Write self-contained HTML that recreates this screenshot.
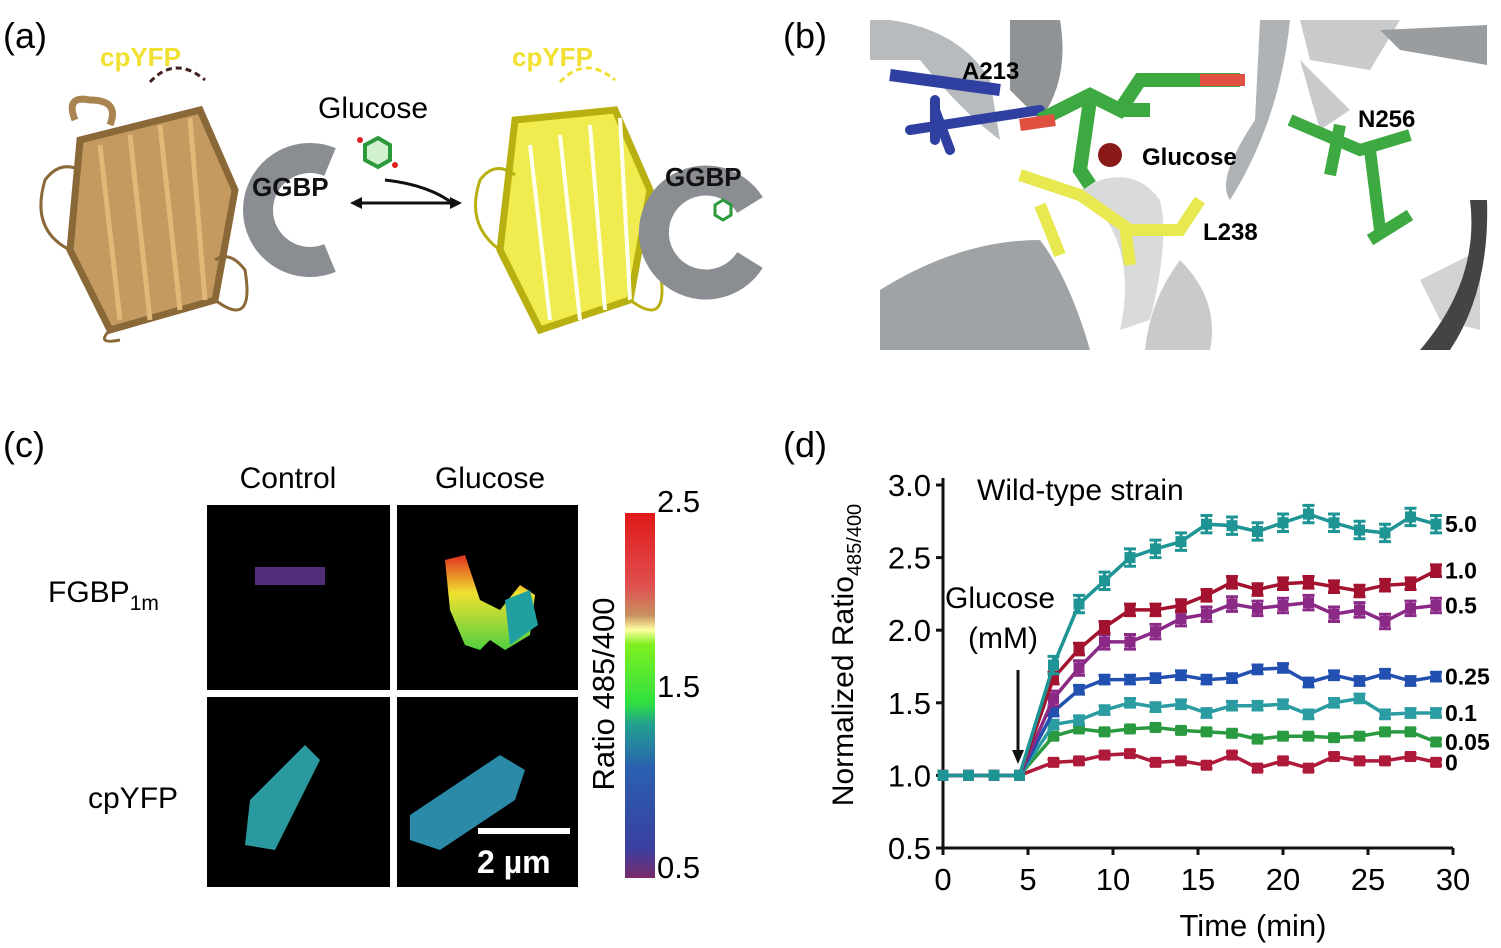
<!DOCTYPE html>
<html><head><meta charset="utf-8"><style>
html,body{margin:0;padding:0;background:#fff;}
svg{display:block;font-family:"Liberation Sans",Arial,sans-serif;}
</style></head><body>
<svg id="fig" width="1501" height="948" viewBox="0 0 1501 948">
<defs>
<linearGradient id="cbar" x1="0" y1="1" x2="0" y2="0">
<stop offset="0" stop-color="#7a2a6a"/><stop offset="0.08" stop-color="#3a3fa0"/>
<stop offset="0.3" stop-color="#2a60b0"/><stop offset="0.42" stop-color="#22a090"/>
<stop offset="0.48" stop-color="#30e040"/><stop offset="0.64" stop-color="#80f020"/>
<stop offset="0.68" stop-color="#ffffa0"/><stop offset="0.72" stop-color="#c89060"/>
<stop offset="0.8" stop-color="#e05050"/><stop offset="1" stop-color="#e01818"/>
</linearGradient>
<linearGradient id="hotG" x1="0" y1="0" x2="0" y2="1"><stop offset="0" stop-color="#e03020"/><stop offset="0.4" stop-color="#f0e030"/><stop offset="1" stop-color="#50d040"/></linearGradient>
</defs>

<!-- Panel a -->
<g>
<text x="3" y="48" font-size="36">(a)</text>
<text x="100" y="66" font-size="26" font-weight="bold" fill="#f2e030">cpYFP</text>
<path d="M150,82 Q175,55 205,80" stroke="#402020" stroke-width="3" stroke-dasharray="6,4" fill="none"/>
<g fill="none" stroke="#a98450" stroke-width="7">
<path d="M75,120 Q65,95 90,100 Q120,100 110,125"/>
<path d="M80,140 L200,110 L235,190 L215,300 L110,330 L70,250 Z" fill="#c49a60" stroke="#8a6838"/>
<path d="M100,145 L120,320 M130,135 L150,320 M160,125 L180,310 M190,118 L205,300" stroke="#e0b878" stroke-width="5"/>
<path d="M70,250 Q30,230 45,180 Q60,160 80,170 M215,300 Q255,330 245,270 Q230,250 215,260 M110,330 Q95,345 120,340" stroke="#8a6838" stroke-width="3"/>
</g>
<path d="M330,162 A52,52 0 1 0 330,258" stroke="#8a8d91" stroke-width="30" fill="none"/>
<text x="252" y="196" font-size="26" font-weight="bold" fill="#111">GGBP</text>
<text x="318" y="118" font-size="30">Glucose</text>
<g><polygon points="365,145 378,138 390,145 390,160 378,167 365,160" fill="#d0f0d0" stroke="#2a9a3a" stroke-width="4"/><circle cx="360" cy="140" r="3" fill="#e02020"/><circle cx="395" cy="165" r="3" fill="#e02020"/></g>
<path d="M385,180 Q430,185 455,205" stroke="#111" stroke-width="3" fill="none"/>
<line x1="356" y1="203" x2="455" y2="203" stroke="#111" stroke-width="3"/>
<polygon points="350,203 362,197 362,209" fill="#111"/><polygon points="462,203 450,197 450,209" fill="#111"/>
<text x="512" y="66" font-size="26" font-weight="bold" fill="#f2e030">cpYFP</text>
<path d="M560,82 Q585,55 615,80" stroke="#f2e030" stroke-width="3" stroke-dasharray="6,4" fill="none"/>
<g fill="none" stroke="#d8d020" stroke-width="7">
<path d="M515,120 L615,110 L650,190 L630,300 L540,330 L500,250 Z" fill="#f0ec50" stroke="#b8b010"/>
<path d="M530,145 L550,320 M560,135 L580,320 M590,125 L605,310 M620,118 L630,300" stroke="#fffff0" stroke-width="4"/>
<path d="M500,250 Q465,225 480,180 Q495,160 515,175 M630,300 Q670,330 660,270" stroke="#b8b010" stroke-width="3"/>
</g>
<path d="M750,205 A52,52 0 1 0 750,260" stroke="#8a8d91" stroke-width="30" fill="none"/>
<text x="665" y="186" font-size="26" font-weight="bold" fill="#111">GGBP</text>
<polygon points="715,205 723,200 731,205 731,215 723,220 715,215" fill="none" stroke="#2a9a3a" stroke-width="3"/>
</g>

<!-- Panel b -->
<g>
<text x="783" y="48" font-size="36">(b)</text>
<rect x="870" y="18" width="617" height="332" fill="#fff"/>
<path d="M870,20 L890,20 Q960,30 990,80 L1000,140 Q960,110 920,60 L870,60 Z" fill="#b8bbbe"/>
<path d="M1010,20 L1060,20 Q1070,80 1040,120 L1010,90 Z" fill="#909396"/>
<path d="M880,350 L880,290 Q960,240 1040,240 Q1070,280 1090,350 Z" fill="#a0a3a6"/>
<path d="M1180,260 Q1220,300 1210,350 L1145,350 Q1150,300 1180,260 Z" fill="#c8cacc"/>
<path d="M1260,20 L1290,20 Q1280,120 1230,200 Q1215,180 1255,120 Z" fill="#b0b3b6"/>
<path d="M1300,20 L1400,20 L1370,70 L1310,60 Z" fill="#c8cacc"/>
<path d="M1380,30 L1487,25 L1487,65 L1400,50 Z" fill="#9a9da0"/>
<path d="M1300,60 L1350,110 L1320,130 Z" fill="#c8cacc"/>
<path d="M1420,280 L1480,250 L1480,330 L1440,320 Z" fill="#d0d2d4"/>
<path d="M1470,200 Q1480,280 1420,350 L1450,350 Q1490,290 1487,200 Z" fill="#444"/>
<path d="M1080,190 Q1130,160 1160,200 Q1170,240 1150,320 L1120,330 Q1140,240 1080,190 Z" fill="#d8dadc"/>
<path d="M890,75 L1000,90" stroke="#3040a0" stroke-width="12"/>
<path d="M910,130 L1040,110 M935,110 L950,150 M935,100 L935,140" stroke="#3040a0" stroke-width="10" stroke-linecap="round"/>
<path d="M1040,120 L1090,95 L1120,110 L1140,80 L1240,80" stroke="#3caa40" stroke-width="14" fill="none"/>
<path d="M1090,100 L1080,170 L1090,185 M1120,110 L1150,110" stroke="#3caa40" stroke-width="14" fill="none"/>
<path d="M1020,125 L1055,120 M1200,80 L1245,80" stroke="#e05040" stroke-width="12"/>
<circle cx="1110" cy="155" r="12" fill="#8a1a1a"/>
<path d="M1020,175 L1080,195 L1130,230 L1180,230 L1200,200 M1040,205 L1060,255 M1125,225 L1130,265" stroke="#e8e850" stroke-width="12" fill="none"/>
<path d="M1290,120 L1360,150 L1410,135 M1340,125 L1330,175 M1370,150 L1380,230 M1370,240 L1410,215" stroke="#3caa40" stroke-width="12" fill="none"/>
<text x="962" y="79" font-size="24" font-weight="bold">A213</text>
<text x="1358" y="127" font-size="24" font-weight="bold">N256</text>
<text x="1142" y="165" font-size="24" font-weight="bold">Glucose</text>
<text x="1203" y="240" font-size="24" font-weight="bold">L238</text>
</g>

<!-- Panel c -->
<g>
<text x="3" y="457" font-size="36">(c)</text>
<text x="288" y="488" font-size="30" text-anchor="middle">Control</text>
<text x="490" y="488" font-size="30" text-anchor="middle">Glucose</text>
<text x="48" y="602" font-size="30">FGBP<tspan font-size="21" dy="8">1m</tspan></text>
<text x="88" y="808" font-size="30">cpYFP</text>
<rect x="207" y="505" width="183" height="185" fill="#000"/>
<rect x="397" y="505" width="181" height="185" fill="#000"/>
<rect x="207" y="697" width="183" height="190" fill="#000"/>
<rect x="397" y="697" width="181" height="190" fill="#000"/>
<rect x="255" y="567" width="70" height="18" fill="#6a3a9a" opacity="0.8"/>
<path d="M445,560 L465,555 L480,600 L500,610 L520,585 L535,595 L530,635 L505,650 L490,640 L480,650 L465,645 L450,610 Z" fill="url(#hotG)"/>
<path d="M505,600 L530,590 L538,625 L510,645 Z" fill="#20a0a0"/>
<path d="M250,800 L305,745 L320,760 L275,850 L245,845 Z" fill="#2a9aa0"/>
<path d="M410,815 L500,755 L525,770 L515,800 L440,850 L410,840 Z" fill="#2a8aa8"/>
<rect x="478" y="828" width="92" height="6" fill="#fff"/>
<text x="477" y="873" font-size="32" font-weight="bold" fill="#fff">2 µm</text>
<rect x="625" y="513" width="30" height="365" fill="url(#cbar)"/>
<text x="657" y="512" font-size="31">2.5</text>
<text x="657" y="697" font-size="31">1.5</text>
<text x="657" y="878" font-size="31">0.5</text>
<text transform="translate(614,694) rotate(-90)" font-size="31" text-anchor="middle">Ratio 485/400</text>
</g>

<!-- Panel d -->
<g id="pd">
<text x="783" y="457" font-size="36">(d)</text>
<text x="977" y="500" font-size="30">Wild-type strain</text>
<text x="945" y="608" font-size="30">Glucose</text>
<text x="968" y="648" font-size="30">(mM)</text>
<line x1="1018" y1="670" x2="1018" y2="752" stroke="#111" stroke-width="3"/>
<polygon points="1012,750 1024,750 1018,764" fill="#111"/>
<text transform="translate(853,655) rotate(-90)" font-size="30" text-anchor="middle">Normalized Ratio<tspan font-size="20" dy="8">485/400</tspan></text>
<text x="1253" y="936" font-size="31" text-anchor="middle">Time (min)</text>
</g>
</svg>
<script>
const xTicks=[0,5,10,15,20,25,30];
const yTicks=["0.5","1.0","1.5","2.0","2.5","3.0"];
const preTimes=[0,1.5,3,4.5];
const postTimes=[6.5,8,9.5,11,12.5,14,15.5,17,18.5,20,21.5,23,24.5,26,27.5,29];
const seriesNames=["5.0","1.0","0.5","0.25","0.1","0.05","0"];
const s50=[1.76,2.18,2.34,2.5,2.56,2.61,2.73,2.72,2.68,2.74,2.80,2.74,2.69,2.67,2.78,2.73];
const s10=[1.67,1.87,2.02,2.14,2.14,2.17,2.24,2.33,2.28,2.32,2.33,2.30,2.27,2.31,2.32,2.41];
const s05=[1.53,1.74,1.92,1.92,1.99,2.08,2.11,2.18,2.15,2.17,2.19,2.11,2.14,2.06,2.15,2.17];
const s025=[1.44,1.59,1.66,1.66,1.67,1.69,1.66,1.67,1.73,1.74,1.64,1.69,1.65,1.70,1.65,1.68];
const s01=[1.35,1.38,1.45,1.50,1.47,1.49,1.43,1.48,1.48,1.49,1.42,1.50,1.53,1.42,1.43,1.43];
const s005=[1.27,1.32,1.30,1.32,1.33,1.31,1.30,1.29,1.25,1.27,1.27,1.26,1.27,1.30,1.30,1.23];
const s0=[1.09,1.10,1.14,1.15,1.09,1.10,1.07,1.14,1.05,1.10,1.05,1.13,1.10,1.10,1.13,1.09];
const preValues=[1.0,1.0,1.0,1.0];
const errs=[0.06,0.04,0.05,0.03,0.03,0.02,0.02];

const allSeries=[s50,s10,s05,s025,s01,s005,s0];
const colors=["#1e9494","#a3122e","#8a2a86","#2250b0","#2a9ca2","#2a9a40","#b01a3a"];
const NS="http://www.w3.org/2000/svg";
const g=document.getElementById('pd');
const X0=943,X1=1453,Y0=848,Y1=485,XMIN=0,XMAX=30,YMIN=0.5,YMAX=3.0;
function sx(v){return X0+(v-XMIN)/(XMAX-XMIN)*(X1-X0);}
function sy(v){return Y0-(v-YMIN)/(YMAX-YMIN)*(Y0-Y1);}
function mk(tag,attrs){const e=document.createElementNS(NS,tag);for(const k in attrs)e.setAttribute(k,attrs[k]);g.appendChild(e);return e;}
let ax=mk('line',{x1:X0,y1:478,x2:X0,y2:Y0,stroke:'#111','stroke-width':3});


let axx=mk('line',{x1:X0,y1:Y0,x2:X1,y2:Y0,stroke:'#111','stroke-width':3});


yTicks.forEach(t=>{const y=sy(parseFloat(t));
 mk('line',{x1:X0-7,y1:y,x2:X0,y2:y,stroke:'#111','stroke-width':3});
 const tx=mk('text',{x:X0-12,y:y+11,'font-size':31,'text-anchor':'end'});tx.textContent=t;
 
 });
xTicks.forEach(t=>{const x=sx(t);
 mk('line',{x1:x,y1:Y0,x2:x,y2:Y0+7,stroke:'#111','stroke-width':3});
 const tx=mk('text',{x:x,y:Y0+42,'font-size':31,'text-anchor':'middle'});tx.textContent=t;
 
 });
allSeries.slice().reverse().forEach((vals,ri)=>{
 const i=allSeries.length-1-ri;
 const ts=preTimes.concat(postTimes), vs=preValues.concat(vals);
 const pts=ts.map((t,j)=>sx(t)+','+sy(vs[j])).join(' ');
 const pl=mk('polyline',{points:pts,fill:'none',stroke:colors[i],'stroke-width':3.5});
 
 
 ts.forEach((t,j)=>{const x=sx(t),y=sy(vs[j]);const e=errs[i];
  if(j>=preTimes.length){
   const y1=sy(vs[j]+e),y2=sy(vs[j]-e);
   mk('path',{d:`M${x},${y1}V${y2}M${x-6},${y1}H${x+6}M${x-6},${y2}H${x+6}`,stroke:colors[i],'stroke-width':3,fill:'none'});
  }
  const pt=mk('rect',{x:x-5.5,y:y-5.5,width:11,height:11,fill:colors[i]});
  
  });
 const last=vals[vals.length-1];
 const lb=mk('text',{x:sx(postTimes[postTimes.length-1])+9,y:sy(last)+8,'font-size':23,'font-weight':'bold'});
 lb.textContent=seriesNames[i];
 
 
});
</script>
</body></html>
